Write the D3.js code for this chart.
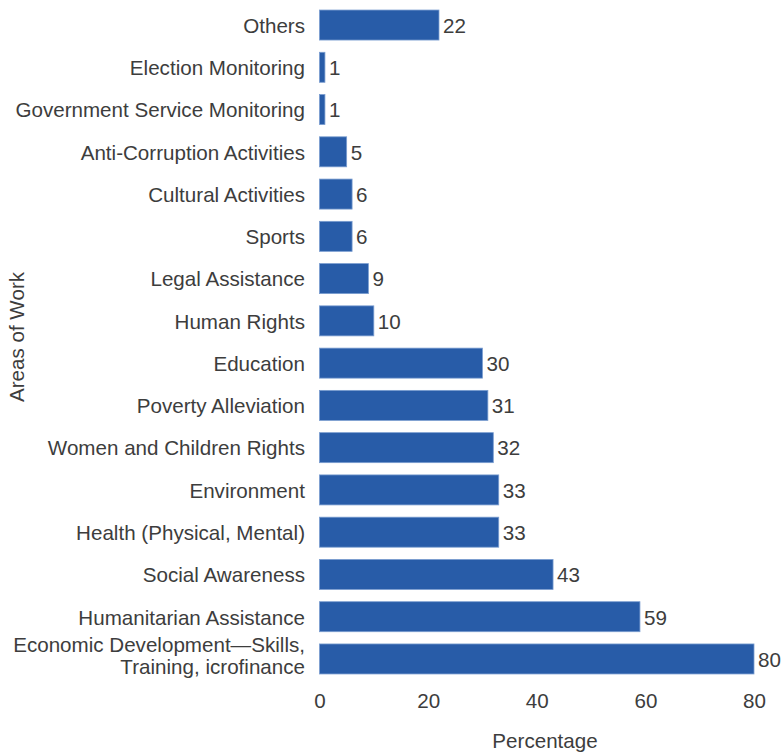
<!DOCTYPE html>
<html>
<head>
<meta charset="utf-8">
<script src="https://cdn.jsdelivr.net/npm/d3@7/dist/d3.min.js"></script>
<style>
  html, body { margin: 0; padding: 0; background: #ffffff; }
  svg text { font-family: "Liberation Sans", Arial, sans-serif; fill: #3d3d3d; }
</style>
</head>
<body>
<svg id="chart" width="784" height="753"></svg>
<script>
// Areas of work, listed top to bottom
const categories = [
  "Others",
  "Election Monitoring",
  "Government Service Monitoring",
  "Anti-Corruption Activities",
  "Cultural Activities",
  "Sports",
  "Legal Assistance",
  "Human Rights",
  "Education",
  "Poverty Alleviation",
  "Women and Children Rights",
  "Environment",
  "Health (Physical, Mental)",
  "Social Awareness",
  "Humanitarian Assistance",
  "Economic Development\u2014Skills,\nTraining, icrofinance"
];

// Share of organisations working in each area (%)
const values = [22, 1, 1, 5, 6, 6, 9, 10, 30, 31, 32, 33, 33, 43, 59, 80];

const xTicks = [0, 20, 40, 60, 80];
const xTitle = "Percentage";
const yTitle = "Areas of Work";

const FONT = 20.6;
const svg = d3.select("#chart");

const x = d3.scaleLinear().domain([0, 80]).range([319.5, 754]);
const y = d3.scaleBand()
  .domain(categories)
  .range([3.9, 680.1])
  .paddingInner(0.29)
  .paddingOuter(0.145);

const data = categories.map((c, i) => ({ cat: c, val: values[i] }));

// Bars
svg.append("g")
  .selectAll("rect")
  .data(data)
  .join("rect")
  .attr("x", x(0))
  .attr("y", d => y(d.cat))
  .attr("width", d => x(d.val) - x(0))
  .attr("height", y.bandwidth())
  .attr("fill", "#285ca8")
  .attr("stroke", "#7a9dd0")
  .attr("stroke-width", 0.8);

// Value labels
svg.append("g")
  .selectAll("text")
  .data(data)
  .join("text")
  .attr("x", d => x(d.val) + 4)
  .attr("y", d => y(d.cat) + y.bandwidth() / 2 + 7.8)
  .attr("font-size", FONT)
  .text(d => d.val);

// Category labels (right aligned, multi-line where needed)
const catG = svg.append("g");
data.forEach(d => {
  const lines = d.cat.split("\n");
  const cy = y(d.cat) + y.bandwidth() / 2;
  const t = catG.append("text")
    .attr("text-anchor", "end")
    .attr("font-size", FONT);
  lines.forEach((ln, i) => {
    t.append("tspan")
      .attr("x", 305)
      .attr("y", cy + 7.8 + i * 21.5 - (lines.length - 1) * 14.3)
      .text(ln);
  });
});

// X axis: tick labels only
const xAxis = d3.axisBottom(x).tickValues(xTicks).tickSize(0).tickPadding(0).tickFormat(d3.format("d"));
const axG = svg.append("g")
  .attr("transform", "translate(0,690)")
  .call(xAxis);
axG.select(".domain").remove();
axG.selectAll("text")
  .attr("font-size", FONT)
  .attr("dy", "0.85em")
  .style("font-family", "\"Liberation Sans\", Arial, sans-serif")
  .style("fill", "#3d3d3d");

// Axis titles
svg.append("text")
  .attr("x", 545)
  .attr("y", 748)
  .attr("text-anchor", "middle")
  .attr("font-size", FONT)
  .text(xTitle);

svg.append("text")
  .attr("transform", "translate(24,337) rotate(-90)")
  .attr("text-anchor", "middle")
  .attr("font-size", FONT)
  .text(yTitle);
</script>
</body>
</html>
